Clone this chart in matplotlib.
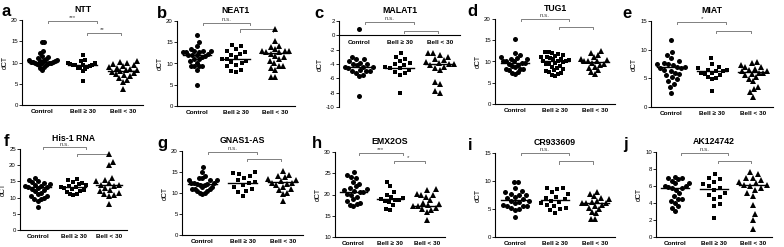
import numpy as np
import matplotlib
matplotlib.use('Agg')
import matplotlib.pyplot as plt

plt.rcParams['font.family'] = ['Liberation Sans', 'DejaVu Sans']

groups = ['Control', 'Bell ≥ 30', 'Bell < 30']

# ---------------- data (dCT values) ----------------
ntt_control = [14.8, 14.8, 12.8, 12.2, 11.6, 11.2, 11.0, 10.9, 10.7, 10.5, 10.5, 10.4, 10.3, 10.2,
               10.2, 10.1, 10.0, 10.0, 9.9, 9.8, 9.7, 9.6, 9.5, 9.3, 9.0, 8.8, 8.2]
ntt_bell_hi = [11.7, 10.5, 10.3, 10.0, 9.9, 9.7, 9.5, 9.4, 9.4, 9.4, 9.2, 9.0, 8.8, 8.6, 8.4, 8.0, 5.7]
ntt_bell_lo = [10.3, 10.2, 9.8, 9.6, 9.4, 9.2, 9.0, 8.7, 8.5, 8.3, 8.2, 8.0, 7.8, 7.5, 7.2, 7.0,
               6.8, 6.4, 5.8, 5.5, 3.7]
ntt_lines = [10.1, 9.4, 8.1]

neat1_control = [16.7, 15.0, 14.0, 13.5, 13.0, 13.0, 13.0, 12.6, 12.6, 12.6, 12.3, 12.0, 12.0, 12.0,
                 11.7, 11.5, 11.0, 11.0, 10.6, 10.2, 9.3, 9.3, 9.3, 9.3, 8.4, 5.0]
neat1_bell_hi = [14.4, 14.0, 13.3, 13.0, 12.7, 12.3, 12.0, 11.5, 11.0, 11.0, 10.7, 10.3, 10.0, 9.6,
                 9.3, 8.5, 8.2, 7.9]
neat1_bell_lo = [18.0, 15.2, 14.2, 13.8, 13.4, 13.0, 13.0, 13.0, 12.6, 12.6, 12.2, 11.8, 11.5, 11.0,
                 10.5, 10.2, 9.5, 9.5, 9.0, 8.4, 6.8, 6.8]
neat1_lines = [12.0, 11.0, 12.4]

malat1_control = [0.9, -3.0, -3.3, -3.3, -3.6, -3.8, -4.0, -4.0, -4.2, -4.4, -4.4, -4.4, -4.6, -4.8,
                  -5.0, -5.0, -5.0, -5.2, -5.5, -5.7, -8.4]
malat1_bell_hi = [-2.5, -3.0, -3.3, -3.6, -3.9, -4.0, -4.2, -4.4, -4.6, -4.6, -4.8, -5.1, -5.3, -5.6, -8.1]
malat1_bell_lo = [-2.5, -2.5, -2.8, -3.0, -3.3, -3.5, -3.7, -3.9, -4.0, -4.0, -4.2, -4.4, -4.6,
                  -4.8, -6.5, -6.8, -7.7, -8.1]
malat1_lines = [-4.4, -4.5, -4.0]

tug1_control = [15.3, 12.0, 11.5, 11.0, 10.8, 10.5, 10.5, 10.2, 10.0, 10.0, 9.7, 9.7, 9.5, 9.2, 9.0,
                8.7, 8.3, 8.3, 8.3, 8.0, 7.6, 7.3, 7.0]
tug1_bell_hi = [12.3, 12.2, 12.0, 11.8, 11.5, 11.3, 11.0, 11.0, 10.8, 10.6, 10.5, 10.3, 10.2, 10.0,
                10.0, 9.8, 9.6, 9.5, 9.3, 9.0, 8.8, 8.5, 8.3, 8.0, 7.8, 7.5, 7.2, 7.0, 6.8, 6.5]
tug1_bell_lo = [12.4, 12.0, 11.5, 11.0, 10.6, 10.3, 10.0, 10.0, 10.0, 9.7, 9.5, 9.2, 8.8, 8.5,
                8.0, 7.5, 7.0]
tug1_lines = [9.7, 10.1, 9.9]

miat_control = [11.7, 9.6, 9.0, 8.5, 8.0, 7.7, 7.5, 7.5, 7.3, 7.0, 7.0, 6.8, 6.8, 6.5, 6.3, 6.0,
                5.8, 5.5, 5.2, 4.8, 4.5, 4.0, 3.5, 2.4]
miat_bell_hi = [8.6, 7.5, 7.0, 6.8, 6.5, 6.5, 6.3, 6.3, 6.0, 6.0, 5.8, 5.5, 5.2, 5.0, 4.8, 2.8]
miat_bell_lo = [7.8, 7.6, 7.3, 7.0, 7.0, 6.7, 6.5, 6.2, 6.2, 6.0, 6.0, 5.8, 5.5, 5.2, 4.8, 4.5,
                3.5, 3.2, 2.6, 1.7]
miat_lines = [6.9, 6.2, 6.1]

his1_control = [16.0, 15.5, 15.0, 14.8, 14.5, 14.2, 14.0, 13.5, 13.5, 13.2, 13.2, 13.0, 12.7, 12.3,
                12.0, 11.5, 11.0, 10.5, 10.5, 10.0, 9.5, 9.5, 9.0, 7.0]
his1_bell_hi = [15.8, 15.3, 14.8, 14.5, 14.2, 13.8, 13.5, 13.2, 13.2, 13.0, 12.7, 12.3, 12.0, 11.7,
                11.2, 11.0, 10.8]
his1_bell_lo = [23.5, 21.0, 20.0, 16.0, 15.5, 15.0, 14.5, 14.0, 13.8, 13.5, 13.0, 12.5, 12.0, 11.5,
                11.0, 10.8, 10.5, 8.0]
his1_lines = [13.2, 13.3, 13.8]

gnas_control = [16.2, 15.0, 14.0, 13.5, 13.5, 13.0, 13.0, 13.0, 12.5, 12.5, 12.5, 12.2, 12.2, 12.0,
                12.0, 11.5, 11.5, 11.0, 11.0, 11.0, 10.5, 10.5, 10.0, 10.0, 9.7]
gnas_bell_hi = [15.0, 14.8, 14.5, 14.0, 13.5, 13.0, 12.7, 12.4, 12.0, 11.5, 11.0, 10.5, 10.3, 9.2]
gnas_bell_lo = [15.3, 14.3, 14.0, 13.7, 13.3, 13.0, 12.8, 12.5, 12.5, 12.2, 12.0, 11.5, 11.0, 10.8,
                10.0, 9.8, 8.0]
gnas_lines = [12.2, 12.4, 12.6]

emx_control = [25.2, 24.5, 24.2, 23.8, 23.0, 22.5, 22.0, 21.5, 21.2, 21.0, 20.8, 20.5, 20.5, 20.2,
               20.0, 19.5, 19.0, 18.5, 18.0, 17.8, 17.5, 17.2]
emx_bell_hi = [23.0, 22.0, 20.5, 19.8, 19.5, 19.2, 19.0, 18.8, 18.8, 18.5, 18.2, 17.5, 16.5, 16.3]
emx_bell_lo = [21.2, 21.0, 20.2, 20.0, 20.0, 19.5, 18.8, 18.0, 17.8, 17.5, 17.4, 17.2, 16.8, 16.5,
               16.3, 16.0, 14.0]
emx_lines = [20.6, 18.9, 17.4]

cr_control = [9.8, 9.8, 8.7, 8.3, 8.0, 7.7, 7.5, 7.5, 7.2, 7.0, 6.8, 6.5, 6.5, 6.2, 6.0, 5.8, 5.5,
              5.5, 5.5, 5.2, 5.0, 4.8, 3.5]
cr_bell_hi = [8.7, 8.7, 8.5, 8.0, 7.6, 7.2, 7.0, 6.7, 6.5, 6.2, 6.0, 5.8, 5.5, 5.2, 5.0, 4.8, 4.3]
cr_bell_lo = [8.0, 7.6, 7.3, 7.0, 6.8, 6.5, 6.3, 6.1, 6.1, 6.0, 5.8, 5.5, 5.2, 5.0, 4.5, 4.3, 3.3, 3.2]
cr_lines = [6.6, 6.6, 6.1]

ak_control = [7.1, 7.0, 7.0, 6.8, 6.6, 6.3, 6.3, 6.0, 6.0, 5.9, 5.8, 5.8, 5.5, 5.2, 4.8, 4.5, 4.5,
              4.2, 4.0, 3.6, 3.4, 3.1]
ak_bell_hi = [7.4, 7.0, 6.8, 6.5, 6.2, 6.0, 5.8, 5.5, 5.2, 5.0, 4.7, 4.5, 3.9, 3.7, 2.2]
ak_bell_lo = [7.7, 7.4, 7.0, 7.0, 6.7, 6.5, 6.3, 6.1, 6.1, 6.0, 5.8, 5.5, 5.2, 4.8, 3.8, 2.7, 2.0, 1.0]
ak_lines = [5.8, 5.7, 6.1]

titles = ['NTT', 'NEAT1', 'MALAT1', 'TUG1', 'MIAT', 'His-1 RNA', 'GNAS1-AS', 'EMX2OS', 'CR933609', 'AK124742']
letters = ['a', 'b', 'c', 'd', 'e', 'f', 'g', 'h', 'i', 'j']
sig_top = ['***', 'n.s.', 'n.s.', 'n.s.', '*', 'n.s.', 'n.s.', '***', 'n.s.', 'n.s.']
sig_low = ['**', '', '', '', '', '', '', '*', '', '']

panels = [
    (ntt_control, ntt_bell_hi, ntt_bell_lo, ntt_lines, (0, 20), [0, 5, 10, 15, 20], (19.7, 16.9)),
    (neat1_control, neat1_bell_hi, neat1_bell_lo, neat1_lines, (0, 20), [0, 5, 10, 15, 20], (19.6, 18.0)),
    (malat1_control, malat1_bell_hi, malat1_bell_lo, malat1_lines, (-10, 2), [-10, -8, -6, -4, -2, 0, 2], (1.9, 0.6)),
    (tug1_control, tug1_bell_hi, tug1_bell_lo, tug1_lines, (0, 20), [0, 5, 10, 15, 20], (20.0, 18.2)),
    (miat_control, miat_bell_hi, miat_bell_lo, miat_lines, (0, 15), [0, 5, 10, 15], (14.8, 13.3)),
    (his1_control, his1_bell_hi, his1_bell_lo, his1_lines, (0, 25), [0, 5, 10, 15, 20, 25], (25.5, 23.5)),
    (gnas_control, gnas_bell_hi, gnas_bell_lo, gnas_lines, (0, 20), [0, 5, 10, 15, 20], (19.8, 18.1)),
    (emx_control, emx_bell_hi, emx_bell_lo, emx_lines, (10, 30), [10, 15, 20, 25, 30], (29.8, 27.9)),
    (cr_control, cr_bell_hi, cr_bell_lo, cr_lines, (0, 15), [0, 5, 10, 15], (15.0, 13.5)),
    (ak_control, ak_bell_hi, ak_bell_lo, ak_lines, (0, 10), [0, 2, 4, 6, 8, 10], (9.9, 9.0)),
]

# axes boxes in pixels: left, top, right, bottom
boxes = [(22, 20, 143, 105), (177, 21, 295, 106), (339, 21, 460, 107), (495, 19, 615, 104),
         (651, 21, 773, 107), (20, 149, 127, 230), (182, 151, 303, 235), (335, 152, 445, 237),
         (495, 153, 615, 237), (656, 152, 772, 237)]
letter_x = [2, 157, 314, 467, 622, 4, 157, 312, 468, 623]

W, H = 784, 247
fig = plt.figure(figsize=(W / 100, H / 100), dpi=100)

markers = ['o', 's', '^']
msizes = [3.6, 3.3, 3.8]


def swarm(ax, x0, vals, d, maxw):
    vals = np.asarray(vals, float)
    pts = ax.transData.transform(np.column_stack([np.full(len(vals), x0), vals]))
    ypix = pts[:, 1]
    xc = pts[0, 0]
    order = np.argsort(ypix)
    placed = []
    xs = np.zeros(len(vals))
    for n, i in enumerate(order):
        y = ypix[i]
        near = [(px, py) for px, py in placed if abs(py - y) < d]
        cands = [0.0]
        for px, py in near:
            dx = np.sqrt(d * d - (py - y) ** 2)
            cands += [px - dx, px + dx]
        sgn = 1 if n % 2 else -1
        cands.sort(key=lambda c: (round(abs(c), 3), sgn * c))
        chosen = 0.0
        for c in cands:
            if all((c - px) ** 2 + (y - py) ** 2 >= d * d - 1e-6 for px, py in near):
                chosen = c
                break
        placed.append((chosen, y))
        xs[i] = chosen
    # limit the spread to the given half width (pixels)
    m = np.max(np.abs(xs)) if len(xs) else 0
    if m > maxw:
        xs = xs * maxw / m
    return ax.transData.inverted().transform(np.column_stack([xc + xs, ypix]))[:, 0]


for k, (c0, c1, c2, lines, ylim, yticks, brk) in enumerate(panels):
    l, t, r, b = boxes[k]
    ax = fig.add_axes([l / W, 1 - b / H, (r - l) / W, (b - t) / H])
    ax.set_xlim(-0.5, 2.5)
    ax.set_ylim(*ylim)
    for s in ['top', 'right']:
        ax.spines[s].set_visible(False)
    for s in ['left', 'bottom']:
        ax.spines[s].set_linewidth(0.8)
    if ylim[0] < 0 < ylim[1]:
        ax.spines['bottom'].set_position(('data', 0))
    ax.set_yticks(yticks)
    ax.set_yticklabels([str(v) for v in yticks], fontsize=4.3)
    ax.set_xticks([0, 1, 2])
    ax.set_xticklabels(groups, fontsize=4.6, fontweight='bold')
    ax.tick_params(axis='y', length=2, width=0.6, pad=1)
    ax.tick_params(axis='x', length=0, pad=3)
    ax.set_ylabel('dCT', fontsize=5, labelpad=2)
    ax.set_title(titles[k], fontsize=6.3, fontweight='bold', pad=6)

    xpx = (r - l) / 3.0  # pixels per category
    for g, vals in enumerate([c0, c1, c2]):
        xs = swarm(ax, g, vals, 6.5, 0.36 * xpx)
        ax.plot(xs, vals, linestyle='none', marker=markers[g], markersize=msizes[g],
                color='black', markeredgewidth=0, clip_on=False, zorder=3)
        ax.plot([g - 0.36, g + 0.36], [lines[g], lines[g]], color='black', lw=1.0, zorder=4)

    span = ylim[1] - ylim[0]
    h = span * 0.025
    y1, y2 = brk
    ax.plot([0.15, 0.15, 1.35, 1.35], [y1 - h, y1, y1, y1 - h], color='#808080', lw=0.7, clip_on=False)
    ax.plot([1.1, 1.1, 1.95, 1.95], [y2 - h, y2, y2, y2 - h], color='#808080', lw=0.7, clip_on=False)
    ax.text(0.75, y1 + span * 0.01, sig_top[k], ha='center', va='bottom', fontsize=4.5, color='#444444')
    if sig_low[k]:
        ax.text(1.5, y2 + span * 0.01, sig_low[k], ha='center', va='bottom', fontsize=4.5, color='#444444')

    fig.text(letter_x[k] / W, 1 - (t - 8) / H, letters[k], fontsize=12, fontweight='bold',
             ha='left', va='center')

fig.savefig('out.png', dpi=100)
